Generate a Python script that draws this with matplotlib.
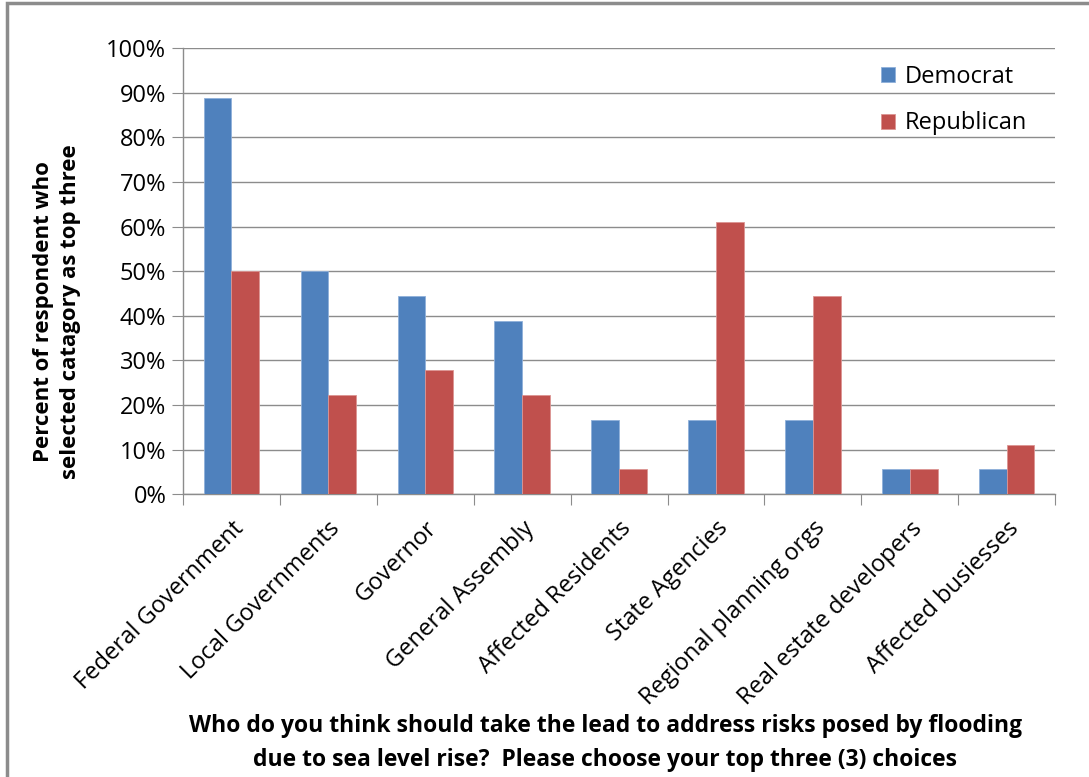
import numpy as np
import matplotlib
matplotlib.use("Agg")
import matplotlib.pyplot as plt
from matplotlib.patches import Rectangle
from matplotlib.ticker import FuncFormatter

# survey results (share of respondents)
categories = ["Federal Government", "Local Governments", "Governor", "General Assembly",
              "Affected Residents", "State Agencies", "Regional planning orgs",
              "Real estate developers", "Affected busiesses"]
democrat = [0.889, 0.500, 0.444, 0.389, 0.167, 0.167, 0.167, 0.056, 0.056]
republican = [0.500, 0.222, 0.278, 0.222, 0.056, 0.611, 0.444, 0.056, 0.111]

plt.rcParams['font.family'] = ['Open Sans', 'DejaVu Sans']

fig = plt.figure(figsize=(10.89, 7.77), dpi=100)
ax = fig.add_axes([0.168, 0.364, 0.801, 0.574])

# outer frame of the chart area
fig.patches.append(Rectangle((7 / 1089, -0.05), 1.2, 1.05 - 3 / 777, transform=fig.transFigure,
                             fill=False, ec="#8c8c8c", lw=2.5))

x = np.arange(len(categories)) + 0.5
w = 0.286
ax.bar(x - w / 2, democrat, w, color="#4F81BD", edgecolor="#8fb0da", lw=0.6, label="Democrat", zorder=3)
ax.bar(x + w / 2, republican, w, color="#C0504D", edgecolor="#dc9593", lw=0.6, label="Republican", zorder=3)

ax.set_xlim(0, len(categories))
ax.set_ylim(0, 1.0)
ax.set_yticks(np.arange(0, 1.01, 0.1))
ax.yaxis.set_major_formatter(FuncFormatter(lambda v, p: f"{v:.0%}"))
ax.grid(axis="y", color="#8c8c8c", lw=1, zorder=0)

for s in ["top", "right"]:
    ax.spines[s].set_visible(False)
for s in ["left", "bottom"]:
    ax.spines[s].set_color("#8c8c8c")
    ax.spines[s].set_linewidth(1)

# tick marks sit between the category groups
ax.set_xticks(np.arange(len(categories) + 1))
ax.set_xticklabels([])
ax.set_xticks(x, minor=True)
ax.set_xticklabels(categories, minor=True, rotation=45, ha="right", rotation_mode="anchor", fontsize=17)
ax.tick_params(axis="x", which="minor", length=0, pad=16)
ax.tick_params(axis="x", which="major", length=8, color="#8c8c8c")
ax.tick_params(axis="y", length=8, color="#8c8c8c", labelsize=17, pad=4)

ax.set_ylabel("Percent of respondent who\nselected catagory as top three",
              fontsize=16, fontweight="bold", linespacing=1.35)
ax.yaxis.set_label_coords(-0.117, 0.41)

fig.text(0.556, 0.044, "Who do you think should take the lead to address risks posed by flooding\n"
         "due to sea level rise?  Please choose your top three (3) choices",
         ha="center", va="center", fontsize=16.5, fontweight="bold", linespacing=1.55)

ax.legend(loc="upper right", bbox_to_anchor=(0.992, 1.01), frameon=False, fontsize=17,
          handlelength=0.6, handleheight=0.6, labelspacing=0.95, handletextpad=0.4)

fig.savefig("out.png", dpi=100)
